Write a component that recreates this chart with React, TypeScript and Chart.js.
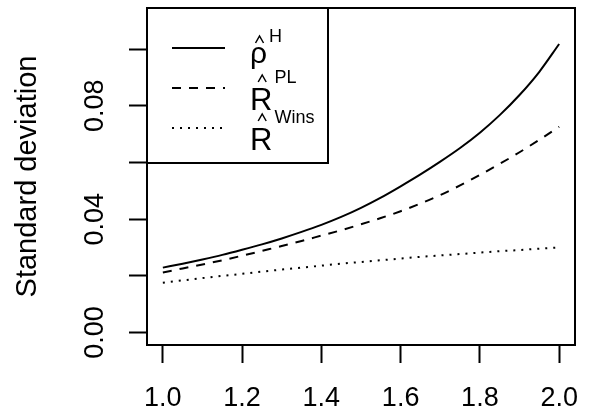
import React, { useEffect, useRef } from 'react';
import { Chart, registerables } from 'chart.js';

Chart.register(...registerables);

// ---- data ----
const xValues = [
  1.0, 1.05, 1.1, 1.15, 1.2, 1.25, 1.3, 1.35, 1.4, 1.45, 1.5,
  1.55, 1.6, 1.65, 1.7, 1.75, 1.8, 1.85, 1.9, 1.95, 2.0,
];
const rhoH = [
  0.0229, 0.0243, 0.0258, 0.0274, 0.0292, 0.0311, 0.0332, 0.0355, 0.038, 0.0408, 0.044,
  0.0476, 0.0516, 0.0558, 0.0603, 0.0651, 0.0705, 0.0767, 0.0838, 0.092, 0.1018,
];
const rPL = [
  0.0212, 0.0226, 0.024, 0.0255, 0.0271, 0.0288, 0.0305, 0.0323, 0.0342, 0.0361, 0.0382,
  0.0404, 0.0428, 0.0455, 0.0485, 0.0519, 0.0556, 0.0595, 0.0636, 0.068, 0.0726,
];
const rWins = [
  0.0176, 0.0184, 0.0192, 0.02, 0.0207, 0.0215, 0.0222, 0.0229, 0.0236, 0.0243, 0.0249,
  0.0255, 0.0261, 0.0267, 0.0272, 0.0277, 0.0282, 0.0287, 0.0291, 0.0296, 0.03,
];

const xTicks = [1.0, 1.2, 1.4, 1.6, 1.8, 2.0];
const yTicks = [0.0, 0.02, 0.04, 0.06, 0.08, 0.1];
const yLabelledTicks = [0.0, 0.04, 0.08];
const yTitle = 'Standard deviation';

const legendBase = ['ρ', 'R', 'R'];
const legendSup = ['H', 'PL', 'Wins'];
const legendDash: number[][] = [[], [9, 8], [2, 6]];

const FONT = "'Liberation Sans', Arial, Helvetica, sans-serif";

const boxAndLegend = {
  id: 'boxAndLegend',
  afterDraw(chart: any) {
    const { ctx, chartArea } = chart;
    const { left, top, right, bottom } = chartArea;
    ctx.save();
    ctx.strokeStyle = '#000';
    ctx.lineWidth = 2;
    ctx.setLineDash([]);
    ctx.strokeRect(left, top, right - left, bottom - top);

    // legend box
    const lw = 181;
    const lh = 155;
    ctx.fillStyle = '#fff';
    ctx.fillRect(left, top, lw, lh);
    ctx.strokeRect(left, top, lw, lh);

    const rowY = [top + 40, top + 80, top + 120];
    const baseY = [top + 55, top + 102, top + 142];
    const supY = [top + 34, top + 75, top + 115];
    const hatY = [top + 28, top + 67, top + 106];
    const baseSize = [30, 31, 31];
    for (let i = 0; i < legendBase.length; i++) {
      // line sample
      ctx.beginPath();
      ctx.lineWidth = 2;
      ctx.setLineDash(legendDash[i]);
      ctx.moveTo(left + 25, rowY[i]);
      ctx.lineTo(left + 78, rowY[i]);
      ctx.stroke();
      ctx.setLineDash([]);

      // base symbol
      ctx.fillStyle = '#000';
      ctx.textAlign = 'left';
      ctx.textBaseline = 'alphabetic';
      ctx.font = `${baseSize[i]}px ${FONT}`;
      const bx = left + 103;
      ctx.fillText(legendBase[i], bx, baseY[i]);
      const bw = ctx.measureText(legendBase[i]).width;

      // hat
      const cx = bx + bw / 2 + 1;
      ctx.beginPath();
      ctx.lineWidth = 1.5;
      ctx.moveTo(cx - 4, hatY[i] + 7);
      ctx.lineTo(cx, hatY[i]);
      ctx.lineTo(cx + 4, hatY[i] + 7);
      ctx.stroke();

      // superscript
      ctx.font = `18px ${FONT}`;
      ctx.fillText(legendSup[i], bx + bw + 2, supY[i]);
    }
    ctx.restore();
  },
};

export default function App() {
  const ref = useRef<HTMLCanvasElement | null>(null);

  useEffect(() => {
    if (!ref.current) return;
    Chart.defaults.font.family = FONT;
    const mk = (ys: number[]) => xValues.map((x, i) => ({ x, y: ys[i] }));
    const chart = new Chart(ref.current, {
      type: 'line',
      data: {
        datasets: [
          { label: 'rhoH', data: mk(rhoH), borderColor: '#000', borderWidth: 2, pointRadius: 0, cubicInterpolationMode: 'monotone' },
          { label: 'RPL', data: mk(rPL), borderColor: '#000', borderWidth: 2, pointRadius: 0, borderDash: [9, 8], cubicInterpolationMode: 'monotone' },
          { label: 'RWins', data: mk(rWins), borderColor: '#000', borderWidth: 2, pointRadius: 0, borderDash: [2, 6], cubicInterpolationMode: 'monotone' },
        ],
      },
      options: {
        animation: false,
        responsive: true,
        maintainAspectRatio: false,
        layout: { padding: { top: 8, right: 14, left: 0, bottom: 0 } },
        plugins: { legend: { display: false }, tooltip: { enabled: false } },
        scales: {
          x: {
            type: 'linear',
            min: 0.96,
            max: 2.04,
            afterBuildTicks: (s: any) => {
              s.ticks = xTicks.map((v) => ({ value: v }));
            },
            afterFit: (s: any) => {
              s.height = 72;
              s.paddingLeft = 0;
              s.paddingRight = 0;
            },
            border: { display: false },
            grid: { drawOnChartArea: false, drawTicks: true, tickLength: 18, tickWidth: 2, tickColor: '#000' },
            ticks: {
              color: '#000',
              font: { size: 27 },
              padding: 19,
              maxRotation: 0,
              autoSkip: false,
              callback: (v: any) => Number(v).toFixed(1),
            },
          },
          y: {
            type: 'linear',
            min: -0.0044,
            max: 0.1145,
            afterBuildTicks: (s: any) => {
              s.ticks = yTicks.map((v) => ({ value: v }));
            },
            afterFit: (s: any) => {
              s.width = 147;
              s.paddingTop = 0;
              s.paddingBottom = 0;
            },
            border: { display: false },
            grid: { drawOnChartArea: false, drawTicks: true, tickLength: 18, tickWidth: 2, tickColor: '#000' },
            title: {
              display: true,
              text: yTitle,
              color: '#000',
              font: { size: 29 },
              padding: { top: 11, bottom: 0 },
            },
            ticks: {
              color: '#000',
              font: { size: 27 },
              padding: 7,
              minRotation: 90,
              maxRotation: 90,
              crossAlign: 'center',
              autoSkip: false,
              callback: (v: any) => {
                const n = Number(v);
                return yLabelledTicks.some((t) => Math.abs(t - n) < 1e-9) ? n.toFixed(2) : '';
              },
            },
          },
        },
      },
      plugins: [boxAndLegend],
    } as any);
    return () => chart.destroy();
  }, []);

  return (
    <div style={{ position: 'fixed', left: 0, top: 0, width: 589, height: 417, background: '#fff' }}>
      <canvas ref={ref} />
    </div>
  );
}
